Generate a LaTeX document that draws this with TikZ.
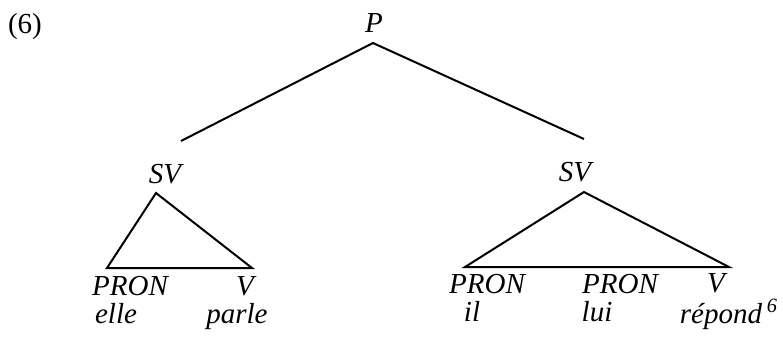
\documentclass[tikz,border=0pt]{standalone}
\usepackage{fontspec}
\setmainfont{Liberation Serif}
\begin{document}
\begin{tikzpicture}[x=0.5pt,y=-0.5pt,line width=1pt,inner sep=0pt,font=\fontsize{14.5}{16}\selectfont\itshape]
			\useasboundingbox (0,0) rectangle (783,339);
			\path (373,43) coordinate (P)
			(181,141) coordinate (SVa)
			(584,139) coordinate (SVb)
			(156,193) coordinate (Ta)
			(107,268) coordinate (Ta_1)
			(252,268) coordinate (Ta_2)
			(584,192) coordinate (Tb)
			(465,267) coordinate (Tb_1)
			(729,267) coordinate (Tb_2);
			\draw (SVa)--(P)--(SVb);
			\draw (Ta_1)--(Ta)--(Ta_2)--cycle
			(Tb_1)--(Tb)--(Tb_2)--cycle;
			\node[anchor=base,font=\fontsize{14.5}{16}\selectfont\upshape] (num) at (25,33) {(6)};
			\foreach \n/\px/\py/\t in {lP/374/32/P,lSVa/165/183/SV,lSVb/575/181/SV,
				lPRONa/130/295/PRON,lVa/245/295/V,lelle/116/323/elle,lparle/237/323/parle,
				lPRONb/487/293/PRON,lPRONc/620/293/PRON,lVb/716/292/V,
				lil/472/321/il,llui/597/321/lui,lrepond/729/323/répond\,\textsuperscript{6}}{
				\node[anchor=base] (\n) at (\px,\py) {\t};
			}
		\end{tikzpicture}
\end{document}
